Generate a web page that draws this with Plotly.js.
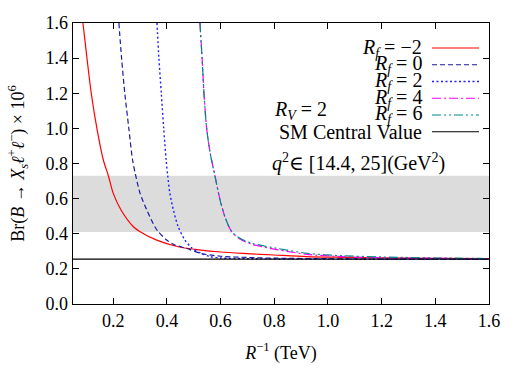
<!DOCTYPE html>
<html>
<head>
<meta charset="utf-8">
<script src="https://cdn.plot.ly/plotly-3.0.1.min.js"></script>
<style>
  html, body { margin: 0; padding: 0; background: #fff; }
  #chart { width: 525px; height: 368px; }
</style>
</head>
<body>
<div id="chart"></div>
<script>
// Branching ratio of B -> X_s l+ l- versus inverse compactification radius
const xRange = [0.05, 1.6];

const xRfm2 = [0.087, 0.102, 0.118, 0.139, 0.163, 0.182, 0.200, 0.229, 0.275, 0.300, 0.362, 0.442, 0.505, 0.6, 0.697, 0.8, 0.921, 1.05, 1.2, 1.4, 1.6];
const yRfm2 = [1.6, 1.40, 1.20, 1.0, 0.82, 0.729, 0.63, 0.535, 0.44, 0.412, 0.364, 0.326, 0.311, 0.296, 0.287, 0.279, 0.270, 0.266, 0.263, 0.260, 0.258];

const xRf0 = [0.221, 0.231, 0.243, 0.258, 0.272, 0.284, 0.300, 0.325, 0.355, 0.368, 0.399, 0.430, 0.467, 0.527, 0.6, 0.7, 0.8, 1.0, 1.2, 1.6];
const yRf0 = [1.6, 1.40, 1.20, 1.0, 0.82, 0.729, 0.63, 0.535, 0.44, 0.412, 0.364, 0.336, 0.32, 0.288, 0.272, 0.265, 0.261, 0.258, 0.256, 0.256];

const xRf2 = [0.363, 0.370, 0.379, 0.388, 0.397, 0.403, 0.411, 0.424, 0.442, 0.467, 0.492, 0.527, 0.56, 0.6, 0.7, 0.9, 1.2, 1.6];
const yRf2 = [1.6, 1.40, 1.20, 1.0, 0.82, 0.729, 0.63, 0.535, 0.44, 0.364, 0.32, 0.289, 0.27, 0.262, 0.258, 0.256, 0.255, 0.255];

const xRf4 = [0.523, 0.531, 0.538, 0.548, 0.561, 0.579, 0.598, 0.616, 0.641, 0.672, 0.716, 0.809, 0.921, 1.05, 1.2, 1.4, 1.6];
const yRf4 = [1.6, 1.40, 1.20, 1.0, 0.86, 0.729, 0.592, 0.497, 0.412, 0.370, 0.340, 0.310, 0.283, 0.270, 0.264, 0.260, 0.258];

const xRf6 = [0.523, 0.531, 0.538, 0.548, 0.561, 0.579, 0.598, 0.616, 0.641, 0.672, 0.716, 0.809, 0.921, 1.05, 1.2, 1.4, 1.6];
const yRf6 = [1.6, 1.40, 1.20, 1.0, 0.86, 0.729, 0.592, 0.497, 0.412, 0.374, 0.346, 0.317, 0.289, 0.275, 0.268, 0.262, 0.259];

const smValue = 0.255;
const expBand = [0.41, 0.73];

const xTicks = [0.2, 0.4, 0.6, 0.8, 1.0, 1.2, 1.4, 1.6];
const yTicks = [0.0, 0.2, 0.4, 0.6, 0.8, 1.0, 1.2, 1.4, 1.6];

const legendLabels = [
  '<i>R</i><sub><i>f</i></sub> = −2',
  '<i>R</i><sub><i>f</i></sub> = 0',
  '<i>R</i><sub><i>f</i></sub> = 2',
  '<i>R</i><sub><i>f</i></sub> = 4',
  '<i>R</i><sub><i>f</i></sub> = 6',
  'SM Central Value'
];

const styles = [
  { color: '#ff0000', dash: 'solid', width: 1.2 },
  { color: '#1a1aa6', dash: '5px,3px', width: 1.2 },
  { color: '#1f1fff', dash: '2px,2.5px', width: 1.4 },
  { color: '#ff00ff', dash: '9px,3px,2px,3px', width: 1.2 },
  { color: '#00868b', dash: '9px,3px,2px,3px,2px,3px', width: 1.2 },
  { color: '#000000', dash: 'solid', width: 1.2 }
];

const FONT = '"Liberation Serif", "DejaVu Serif", serif';

const series = [[xRfm2, yRfm2], [xRf0, yRf0], [xRf2, yRf2], [xRf4, yRf4], [xRf6, yRf6]];
const traces = series.map((s, i) => ({
  x: s[0], y: s[1], type: 'scatter', mode: 'lines',
  line: { color: styles[i].color, dash: styles[i].dash, width: styles[i].width, shape: 'spline', smoothing: 0.8 },
  showlegend: false, hoverinfo: 'skip'
}));
traces.push({
  x: xRange, y: [smValue, smValue], type: 'scatter', mode: 'lines',
  line: { color: styles[5].color, width: styles[5].width },
  showlegend: false, hoverinfo: 'skip'
});

// plot-area geometry in pixels (used for the hand-placed key)
const W = 525, H = 368, mL = 73, mR = 36, mT = 23, mB = 64;
const pw = W - mL - mR, ph = H - mT - mB;
const px = v => (v - mL) / pw;
const py = v => (H - mB - v) / ph;

const shapes = [{
  type: 'rect', xref: 'paper', yref: 'y', x0: 0, x1: 1, y0: expBand[0], y1: expBand[1],
  fillcolor: '#dcdcdc', line: { width: 0 }, layer: 'below'
}];
const annotations = [];
legendLabels.forEach((lab, i) => {
  const rowY = py(48 + i * 16.75);
  annotations.push({
    xref: 'paper', yref: 'paper', x: px(424), y: rowY, xanchor: 'right', yanchor: 'middle',
    text: lab, showarrow: false, font: { family: FONT, size: 20, color: '#000' }
  });
  shapes.push({
    type: 'line', xref: 'paper', yref: 'paper', x0: px(432), x1: px(479), y0: rowY, y1: rowY,
    line: { color: styles[i].color, dash: styles[i].dash, width: styles[i].width }
  });
});
annotations.push({
  xref: 'paper', yref: 'paper', x: px(272), y: py(110), xanchor: 'left', yanchor: 'middle',
  text: '<i>R</i><sub><i>V</i></sub> = 2', showarrow: false, font: { family: FONT, size: 20, color: '#000' }
});
annotations.push({
  xref: 'paper', yref: 'paper', x: px(270), y: py(162), xanchor: 'left', yanchor: 'middle',
  text: '<i>q</i><sup>2</sup>∈ [14.4, 25](GeV<sup>2</sup>)', showarrow: false, font: { family: FONT, size: 20, color: '#000' }
});

const axisCommon = {
  showline: true, linecolor: '#000', linewidth: 1.3, mirror: 'ticks',
  ticks: 'inside', ticklen: 6, tickwidth: 1, tickcolor: '#000',
  showgrid: false, zeroline: false,
  tickfont: { family: FONT, size: 18, color: '#000' }
};

const layout = {
  width: W, height: H,
  margin: { l: mL, r: mR, t: mT, b: mB, pad: 0 },
  paper_bgcolor: '#fff', plot_bgcolor: '#fff',
  showlegend: false,
  font: { family: FONT, color: '#000' },
  xaxis: Object.assign({}, axisCommon, {
    range: xRange, tickvals: xTicks, ticktext: xTicks.map(v => v.toFixed(1)),
    title: { text: '<i>R</i><sup>−1</sup> (TeV)', font: { family: FONT, size: 18, color: '#000' }, standoff: 16 }
  }),
  yaxis: Object.assign({}, axisCommon, {
    range: [0, 1.6], tickvals: yTicks, ticktext: yTicks.map(v => v.toFixed(1)),
    title: { text: 'Br(<i>B</i> → <i>X</i><sub><i>s</i></sub><i>ℓ</i><sup>+</sup><i>ℓ</i><sup>−</sup>) × 10<sup>6</sup>', font: { family: FONT, size: 18, color: '#000' }, standoff: 16 }
  }),
  shapes: shapes,
  annotations: annotations
};

Plotly.newPlot('chart', traces, layout, { displayModeBar: false, staticPlot: true });
</script>
</body>
</html>
